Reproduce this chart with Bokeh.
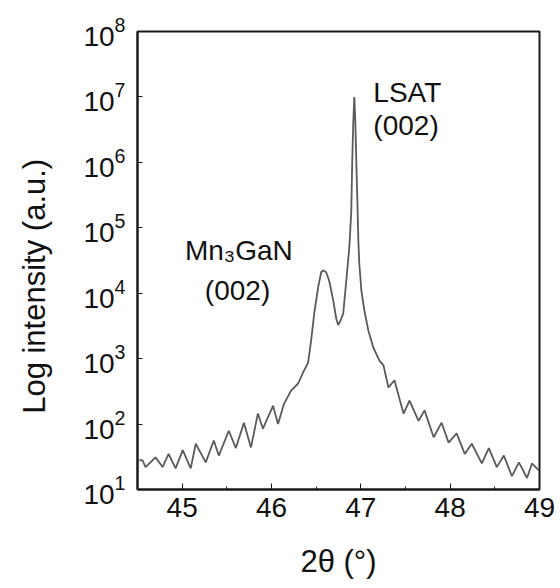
import math
from bokeh.plotting import figure
from bokeh.models import Range1d, Label, FixedTicker, SingleIntervalTicker
from bokeh.embed import file_html
from bokeh.resources import INLINE

# XRD 2theta-omega scan
two_theta = [44.522, 44.556, 44.590, 44.702, 44.781, 44.848, 44.927, 45.006, 45.096, 45.152,
             45.264, 45.354, 45.410, 45.522, 45.601, 45.691, 45.770, 45.848, 45.904, 46.017,
             46.073, 46.140, 46.219, 46.298, 46.354, 46.410, 46.444, 46.478, 46.522, 46.556,
             46.579, 46.612, 46.646, 46.691, 46.725, 46.747, 46.781, 46.803, 46.837, 46.871,
             46.893, 46.904, 46.916, 46.927, 46.938, 46.949, 46.961, 46.972, 46.983, 47.006,
             47.039, 47.084, 47.140, 47.208, 47.253, 47.309, 47.376, 47.478, 47.545, 47.646,
             47.713, 47.815, 47.904, 47.983, 48.073, 48.163, 48.242, 48.354, 48.433, 48.522,
             48.601, 48.691, 48.770, 48.860, 48.916, 48.994]
intensity = [28, 28, 22, 31, 22, 35, 21, 40, 21, 50,
             26, 56, 33, 79, 43, 105, 44, 145, 85, 190,
             100, 204, 324, 417, 617, 871, 1905, 4898, 12300, 20900,
             22400, 20900, 15500, 7760, 4070, 3240, 4070, 4900, 15500, 50100,
             178000, 1070000, 4370000, 10000000, 4370000, 1070000, 263000, 64600, 28200, 11000,
             5500, 2690, 1480, 933, 794, 363, 468, 145, 229, 112,
             162, 63, 105, 52, 72, 35, 50, 25, 43, 22,
             33, 16, 26, 15, 25, 19.5]

y_ticks = [1e1, 1e2, 1e3, 1e4, 1e5, 1e6, 1e7, 1e8]

FONT = "Liberation Sans"
FS = "28px"
LFS = "31px"
INK = "#111111"

p = figure(width=560, height=588, y_axis_type="log",
           x_range=Range1d(44.5, 49), y_range=Range1d(10, 1e8),
           output_backend="svg", toolbar_location=None,
           min_border_left=137, min_border_right=21, min_border_top=31, min_border_bottom=99)

p.line(two_theta, intensity, line_color="#5a5a5a", line_width=1.8)

p.grid.visible = False
p.outline_line_color = "#1a1a1a"
p.outline_line_width = 2
p.background_fill_color = "white"
p.border_fill_color = "white"

xa = p.xaxis[0]
xa.ticker = SingleIntervalTicker(interval=1, num_minor_ticks=2)
xa.major_tick_in = 6
xa.major_tick_out = 0
xa.minor_tick_in = 3
xa.minor_tick_out = 0
xa.major_tick_line_color = "#1a1a1a"
xa.minor_tick_line_color = "#1a1a1a"
xa.axis_line_color = "#1a1a1a"
xa.axis_line_width = 2
xa.major_label_text_font = FONT
xa.major_label_text_font_size = FS
xa.major_label_text_color = INK
xa.major_label_standoff = 8
xa.axis_label = "2θ (°)"
xa.axis_label_text_font = FONT
xa.axis_label_text_font_size = LFS
xa.axis_label_text_font_style = "normal"
xa.axis_label_text_color = INK
xa.axis_label_standoff = 24

ya = p.yaxis[0]
ya.ticker = FixedTicker(ticks=y_ticks)
ya.major_tick_in = 5
ya.major_tick_out = 0
ya.minor_tick_line_color = None
ya.major_tick_line_color = "#1a1a1a"
ya.axis_line_color = "#1a1a1a"
ya.axis_line_width = 2
ya.major_label_text_font = FONT
ya.major_label_text_font_size = FS
ya.major_label_text_color = INK
ya.major_label_standoff = 12
ya.axis_label = "Log intensity (a.u.)" + "\u00a0" * 6
ya.axis_label_text_font = FONT
ya.axis_label_text_font_size = LFS
ya.axis_label_text_font_style = "normal"
ya.axis_label_text_color = INK
ya.axis_label_standoff = 28

p.add_layout(Label(x=45.635, y=45000, text="Mn₃GaN", text_align="center",
                   text_baseline="alphabetic", text_font=FONT, text_font_size=FS,
                   text_color=INK))
p.add_layout(Label(x=45.62, y=11000, text="(002)", text_align="center",
                   text_baseline="alphabetic", text_font=FONT, text_font_size=FS,
                   text_color=INK))
p.add_layout(Label(x=47.14, y=1.17e7, text="LSAT", text_align="left",
                   text_baseline="alphabetic", text_font=FONT, text_font_size=FS,
                   text_color=INK))
p.add_layout(Label(x=47.14, y=3.6e6, text="(002)", text_align="left",
                   text_baseline="alphabetic", text_font=FONT, text_font_size=FS,
                   text_color=INK))

open("out.html", "w").write(file_html(p, INLINE))
